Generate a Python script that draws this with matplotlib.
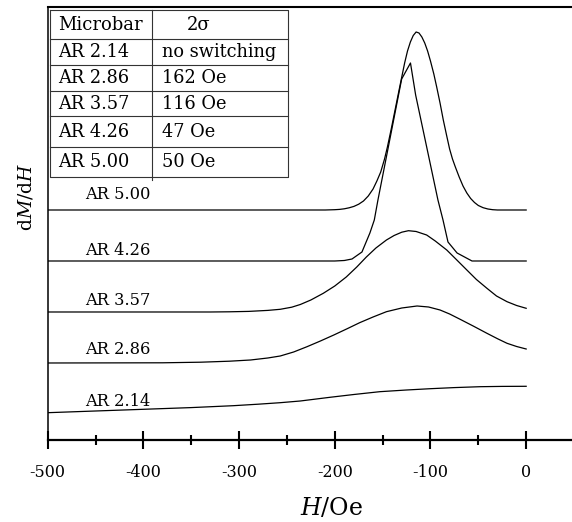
import matplotlib
matplotlib.use("Agg")
import matplotlib.pyplot as plt

plt.rcParams['font.family'] = ['DejaVu Serif']
plt.rcParams['mathtext.fontset'] = 'dejavuserif'

# field values (Oe) and stacked dM/dH traces (arbitrary units, offset for display)
h_ar500 = [-500, -210, -200, -195, -190, -185, -180, -175, -170, -165, -160, -156, -152,
           -148, -145, -141, -137, -133, -130, -127, -124, -121, -118, -115, -112, -109,
           -106, -103, -100, -96.5, -93.5, -90, -86.6, -83, -80, -77, -74, -70, -66,
           -62, -58, -54, -50, -45, -40, -35, -30, 0]
dm_ar500 = [230, 230, 230.3, 230.6, 231.2, 232.2, 233.6, 235.8, 239, 244, 251, 259, 268,
            281, 293, 311, 330, 349, 363, 377, 389, 398, 404.5, 408, 407, 403,
            397, 389, 379, 366, 353, 337, 320, 304, 291, 281, 273, 263, 254,
            247, 241.5, 237.5, 234.5, 232.3, 231, 230.3, 230, 230]

h_ar426 = [-500, -200, -190, -182, -171.6, -163.3, -158.7, -154.9, -130.1, -120.9, -115.5,
           -92.2, -86.9, -81.7, -72.2, -56.6, 0]
dm_ar426 = [179, 179, 179.5, 181, 188, 207, 220, 240, 361, 377, 345,
            240, 220, 198, 187, 179, 179]

h_ar357 = [-500, -330, -310, -290, -270, -257, -245, -236, -225, -212, -200, -188, -177,
           -167, -157, -146, -138, -130, -123, -115, -104, -95, -83, -73, -62, -52, -41,
           -31, -20, -10, 0]
dm_ar357 = [128, 128, 128.2, 128.6, 129.6, 130.7, 132.8, 135.5, 140, 146.7, 154, 163, 173,
            183, 192, 200, 204.5, 207.8, 209.3, 208.5, 205, 199, 190, 180.5, 170, 160.5, 151.7,
            144, 138.3, 134.5, 131.7]

h_ar286 = [-500, -380, -340, -310, -288, -270, -257, -243, -229, -215, -201, -187, -174,
           -160, -146, -130, -114, -102, -90, -80, -69, -55, -41, -30, -20, -10, 0]
dm_ar286 = [77, 77.2, 77.8, 78.8, 80, 82, 84, 88, 93.3, 99, 105, 111.3, 117.3,
            123, 128.3, 132, 134, 133, 130, 126, 120.7, 113.8, 106.7, 101.3, 96.7, 93.5, 91]

h_ar214 = [-500, -450, -400, -350, -306, -280, -257, -236, -205, -180, -153, -125, -100,
           -75, -48, -25, 0]
dm_ar214 = [27.3, 29, 30.7, 32.4, 34.3, 35.8, 37.3, 39, 42.7, 45.5, 48.3, 50, 51.3,
            52.4, 53.3, 53.6, 53.7]

curve_labels = ["AR 5.00", "AR 4.26", "AR 3.57", "AR 2.86", "AR 2.14"]
label_y = [240.7, 184.7, 134.7, 85.7, 33.7]

table_header = ["Microbar", "2σ"]
microbars = ["AR 2.14", "AR 2.86", "AR 3.57", "AR 4.26", "AR 5.00"]
two_sigma = ["no switching", "162 Oe", "116 Oe", "47 Oe", "50 Oe"]

xticks = [-500, -400, -300, -200, -100, 0]
xtick_labels = ["-500", "-400", "-300", "-200", "-100", "0"]
xminor = [-450, -350, -250, -150, -50]

fig = plt.figure(figsize=(5.72, 5.22), dpi=100)
ax = fig.add_axes([0.0834, 0.1571, 0.9166, 0.8295])

for h, dm in [(h_ar500, dm_ar500), (h_ar426, dm_ar426), (h_ar357, dm_ar357),
              (h_ar286, dm_ar286), (h_ar214, dm_ar214)]:
    ax.plot(h, dm, color='black', lw=0.9)

for lab, y in zip(curve_labels, label_y):
    ax.text(-461, y, lab, fontsize=11.7, ha='left', va='baseline')

ax.set_xlim(-500, 47.9)
ax.set_ylim(0, 433)

# table in the upper left corner (data coords)
tx0, tx1, tx2 = -497.6, -391.0, -248.9
rows = [430, 401, 375, 349, 324, 293, 263]
tkw = dict(color='#333333', lw=0.8, clip_on=False)
ax.plot([tx0, tx2, tx2, tx0, tx0], [rows[0], rows[0], rows[-1], rows[-1], rows[0]], **tkw)
ax.plot([tx1, tx1], [rows[0], 260], **tkw)
for r in rows[1:-1]:
    ax.plot([tx0, tx2], [r, r], **tkw)

def row_base(i):
    return (rows[i] + rows[i + 1]) / 2 - 5.5

ax.text(-489.2, row_base(0), table_header[0], fontsize=13, va='baseline')
ax.text(-342.8, row_base(0), table_header[1], fontsize=13, va='baseline', ha='center')
for i, (m, s) in enumerate(zip(microbars, two_sigma)):
    ax.text(-489.2, row_base(i + 1), m, fontsize=12.8, va='baseline')
    ax.text(-380.6, row_base(i + 1), s, fontsize=12.8, va='baseline')

ax.spines['right'].set_visible(False)
ax.spines['top'].set_linewidth(1.5)
ax.spines['bottom'].set_linewidth(1.6)
ax.spines['left'].set_linewidth(1.1)

ax.set_xticks(xticks)
ax.set_xticklabels(xtick_labels)
ax.set_xticks(xminor, minor=True)
ax.tick_params(axis='x', which='major', direction='inout', length=13, width=1.5,
               pad=11, labelsize=11.5)
ax.tick_params(axis='x', which='minor', direction='inout', length=7.2, width=1.5)
ax.set_yticks([])

fig.text(26 / 572, 1 - 197 / 522, r'd$M$/d$H$', rotation=90, fontsize=13.5,
         ha='center', va='center')
fig.text(331.5 / 572, 1 - 515 / 522, r'$H$/Oe', fontsize=17, ha='center', va='baseline')

fig.savefig('out.png', dpi=100)
